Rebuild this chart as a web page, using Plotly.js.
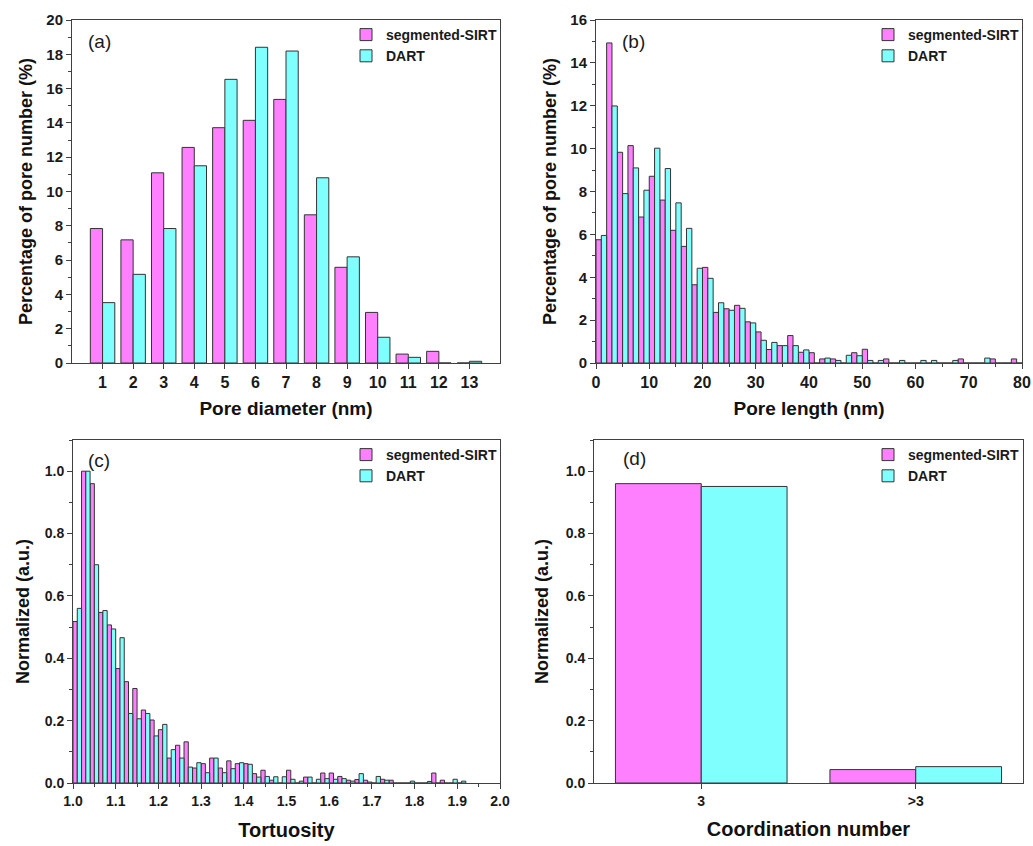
<!DOCTYPE html>
<html>
<head>
<meta charset="utf-8">
<script src="https://cdn.plot.ly/plotly-3.0.1.min.js"></script>
<style>html,body{margin:0;padding:0;background:#fff;}#chart{width:1033px;height:846px;}</style>
</head>
<body>
<div id="chart"></div>
<script>
// ---------- data ----------
// (a) pore diameter distribution
const aDiameter = [1, 2, 3, 4, 5, 6, 7, 8, 9, 10, 11, 12, 13];
const aSirt = [7.84, 7.18, 11.09, 12.57, 13.72, 14.15, 15.37, 8.64, 5.58, 2.95, 0.52, 0.68, 0];
const aDart = [3.52, 5.17, 7.84, 11.5, 16.54, 18.41, 18.19, 10.8, 6.19, 1.5, 0.33, 0, 0.1];

// (b) pore length distribution (bin centres, nm)
const bLength = [1, 3, 5, 7, 9, 11, 13, 15, 17, 19, 21, 23, 25, 27, 29, 31, 33, 35, 37, 39,
                 41, 43, 45, 47, 49, 51, 53, 55, 57, 59, 61, 63, 65, 67, 69, 71, 73, 75, 77, 79];
const bSirt = [5.75, 14.93, 9.83, 10.14, 6.81, 8.71, 7.6, 6.19, 5.44, 3.65, 4.46, 2.36, 2.53, 2.69, 1.92, 1.45, 0.63, 0.81, 1.28, 0.5,
               0.48, 0.19, 0.19, 0, 0.48, 0.64, 0, 0.19, 0, 0, 0, 0, 0, 0, 0.19, 0, 0, 0.19, 0, 0.19];
const bDart = [5.95, 11.99, 7.9, 9.1, 8.06, 10.02, 9.07, 7.47, 6.28, 4.42, 3.95, 2.81, 2.46, 2.55, 1.87, 1.06, 0.96, 0.81, 0.81, 0.61,
               0, 0.23, 0.12, 0.36, 0.34, 0.12, 0.12, 0, 0.12, 0, 0.12, 0.12, 0, 0.12, 0, 0, 0.23, 0, 0, 0];

// (c) tortuosity distribution (bin centres)
const cTortuosity = [1.01, 1.03, 1.05, 1.07, 1.09, 1.11, 1.13, 1.15, 1.17, 1.19, 1.21, 1.23, 1.25, 1.27, 1.29, 1.31,
                     1.33, 1.35, 1.37, 1.39, 1.41, 1.43, 1.45, 1.47, 1.49, 1.51, 1.53, 1.55, 1.57, 1.59, 1.61, 1.63,
                     1.65, 1.67, 1.69, 1.71, 1.73, 1.75, 1.77, 1.79, 1.81, 1.83, 1.85, 1.87, 1.89, 1.91];
const cSirt = [0.518, 1.0, 0.96, 0.547, 0.507, 0.367, 0.325, 0.303, 0.234, 0.202, 0.171, 0.08, 0.121, 0.132, 0.048, 0.062,
               0.08, 0.048, 0.071, 0.062, 0.062, 0.03, 0.041, 0.009, 0, 0.041, 0, 0.019, 0, 0.032, 0.032, 0.021,
               0.009, 0.011, 0.009, 0, 0.012, 0.009, 0, 0, 0, 0, 0.032, 0.009, 0, 0];
const cDart = [0.56, 1.0, 0.7, 0.553, 0.494, 0.466, 0.223, 0.206, 0.223, 0.151, 0.188, 0.107, 0.08, 0.051, 0.065, 0.033,
               0.08, 0.033, 0.046, 0.065, 0.06, 0.019, 0.021, 0.02, 0.02, 0.012, 0.006, 0.019, 0.012, 0.014, 0.012, 0.014,
               0.006, 0.03, 0.003, 0.021, 0.009, 0, 0, 0.006, 0, 0.005, 0, 0, 0.012, 0.006];

// (d) coordination number
const dCoord = ['3', '>3'];
const dSirt = [0.96, 0.043];
const dDart = [0.951, 0.0525];

const seriesNames = ['segmented-SIRT', 'DART'];
const panelLabels = ['(a)', '(b)', '(c)', '(d)'];

// ---------- styling ----------
const W = 1033, H = 846;
const FONT = 'Arial, "Liberation Sans", sans-serif';
const PINK = '#ff80ff', CYAN = '#80ffff', EDGE = '#333333', AX = '#404040';
const px = v => v / W;
const py = v => 1 - v / H;

function bar(x, y, name, color, xa, ya, legend, width, offset) {
  return {type: 'bar', x: x, y: y, name: name, xaxis: xa, yaxis: ya, legend: legend,
    width: width, offset: offset, showlegend: true,
    marker: {color: color, line: {color: EDGE, width: 1}}, hoverinfo: 'x+y+name'};
}

const traces = [
  bar(aDiameter, aSirt, seriesNames[0], PINK, 'x', 'y', 'legend', 0.4, -0.4),
  bar(aDiameter, aDart, seriesNames[1], CYAN, 'x', 'y', 'legend', 0.4, 0),
  bar(bLength, bSirt, seriesNames[0], PINK, 'x2', 'y2', 'legend2', 1, -1),
  bar(bLength, bDart, seriesNames[1], CYAN, 'x2', 'y2', 'legend2', 1, 0),
  bar(cTortuosity, cSirt, seriesNames[0], PINK, 'x3', 'y3', 'legend3', 0.01, -0.01),
  bar(cTortuosity, cDart, seriesNames[1], CYAN, 'x3', 'y3', 'legend3', 0.01, 0),
  bar(dCoord, dSirt, seriesNames[0], PINK, 'x4', 'y4', 'legend4', 0.4, -0.4),
  bar(dCoord, dDart, seriesNames[1], CYAN, 'x4', 'y4', 'legend4', 0.4, 0)
];

const base = {showline: true, mirror: true, linecolor: AX, linewidth: 1, ticks: 'outside', ticklen: 5,
  tickwidth: 1, tickcolor: AX, showgrid: false, zeroline: false, fixedrange: true};
const tf = size => ({family: FONT, size: size, weight: 'bold', color: '#1a1a1a'});
const ttl = (text, size, standoff) => ({text: text, font: {family: FONT, size: size, weight: 'bold', color: '#111'}, standoff: standoff});
const minor = d => ({ticks: 'outside', ticklen: 3, dtick: d, tickcolor: AX, tickwidth: 1});

const topDom = [py(363), py(20)];
const botDom = [py(783), py(440)];

function leg(xr, ytop) {
  return {x: px(xr), xanchor: 'right', y: py(ytop), yanchor: 'top', bgcolor: 'rgba(0,0,0,0)',
    borderwidth: 0, font: {family: FONT, size: 14, weight: 'bold', color: '#1a1a1a'}, tracegroupgap: 0, itemwidth: 30};
}

const labelFont = {family: FONT, size: 19, color: '#1a1a1a'};
function panelLabel(text, x, y) {
  return {text: text, x: px(x), y: py(y), xref: 'paper', yref: 'paper', xanchor: 'left', yanchor: 'middle',
    showarrow: false, font: labelFont};
}

const layout = {
  width: W, height: H, margin: {l: 0, r: 0, t: 0, b: 0}, paper_bgcolor: '#fff', plot_bgcolor: '#fff',
  barmode: 'overlay', showlegend: true,
  xaxis: Object.assign({}, base, {domain: [px(72), px(500)], anchor: 'y', range: [0, 14], tickvals: aDiameter,
    tickfont: tf(16), title: ttl('Pore diameter (nm)', 19, 11)}),
  yaxis: Object.assign({}, base, {domain: topDom, anchor: 'x', range: [0, 20], dtick: 2, minor: minor(1),
    tickfont: tf(15), title: ttl('Percentage of pore number (%)', 18, 9)}),
  xaxis2: Object.assign({}, base, {domain: [px(596), px(1022)], anchor: 'y2', range: [0, 80], dtick: 10, minor: minor(5),
    tickfont: tf(16), title: ttl('Pore length (nm)', 19, 11)}),
  yaxis2: Object.assign({}, base, {domain: topDom, anchor: 'x2', range: [0, 16], dtick: 2, minor: minor(1),
    tickfont: tf(15), title: ttl('Percentage of pore number (%)', 18, 9)}),
  xaxis3: Object.assign({}, base, {domain: [px(73), px(500)], anchor: 'y3', range: [1.0, 2.0], dtick: 0.1, tickformat: '.1f',
    minor: minor(0.05), tickfont: tf(14), title: ttl('Tortuosity', 20, 15)}),
  yaxis3: Object.assign({}, base, {domain: botDom, anchor: 'x3', range: [0, 1.1], dtick: 0.2, tickformat: '.1f', minor: minor(0.1),
    tickfont: tf(14), title: ttl('Normalized (a.u.)', 18, 10)}),
  xaxis4: Object.assign({}, base, {domain: [px(594), px(1023)], anchor: 'y4', type: 'category', range: [-0.5, 1.5],
    tickfont: tf(14), title: ttl('Coordination number', 20, 14)}),
  yaxis4: Object.assign({}, base, {domain: botDom, anchor: 'x4', range: [0, 1.1], dtick: 0.2, tickformat: '.1f', minor: minor(0.1),
    tickfont: tf(14), title: ttl('Normalized (a.u.)', 18, 12)}),
  legend: leg(502, 19),
  legend2: leg(1024, 19),
  legend3: leg(502, 439),
  legend4: leg(1024, 439),
  annotations: [
    panelLabel(panelLabels[0], 86, 42),
    panelLabel(panelLabels[1], 620, 42),
    panelLabel(panelLabels[2], 86, 461),
    panelLabel(panelLabels[3], 621, 458)
  ]
};

Plotly.newPlot('chart', traces, layout, {displayModeBar: false, staticPlot: true});
</script>
</body>
</html>
